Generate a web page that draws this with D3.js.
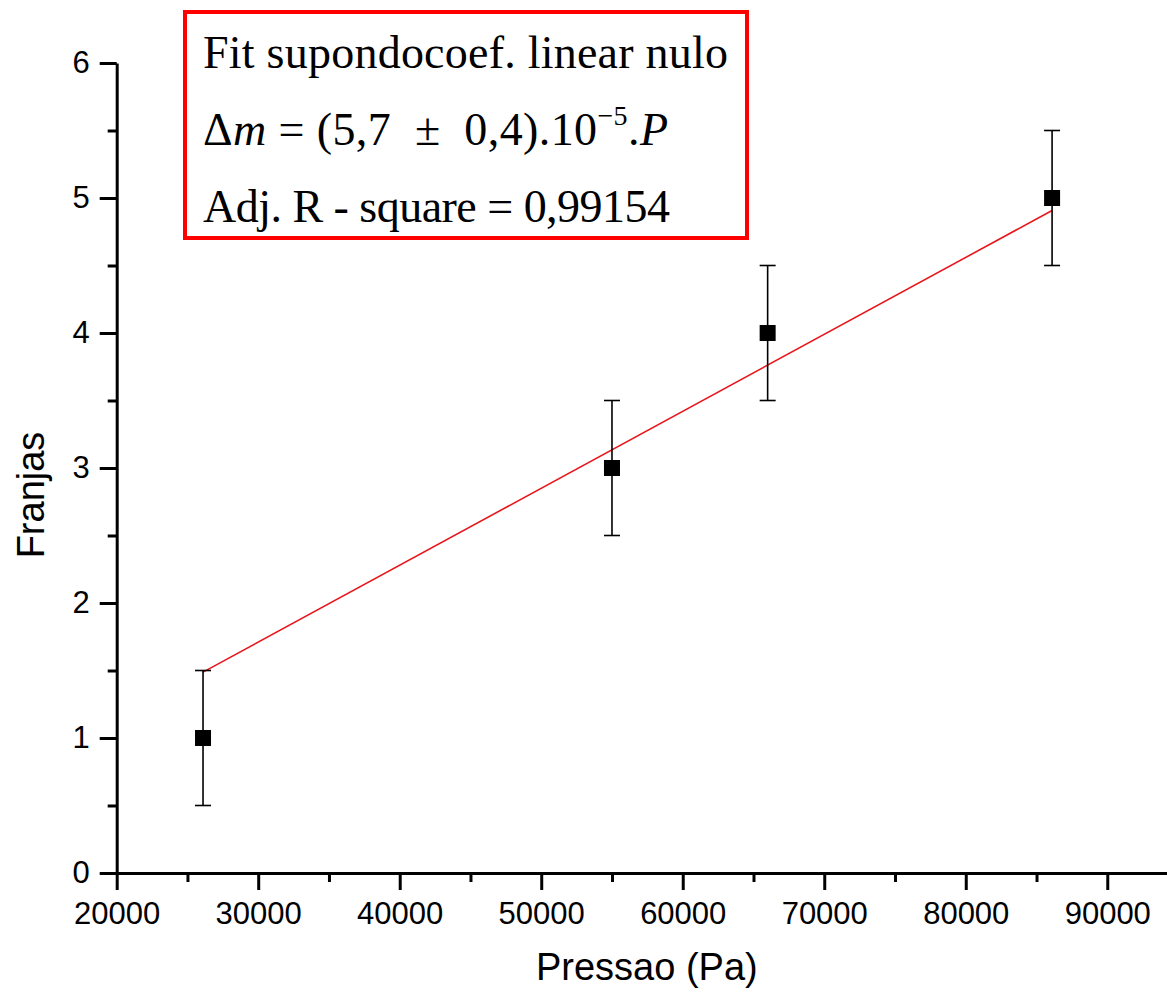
<!DOCTYPE html>
<html>
<head>
<meta charset="utf-8">
<script src="https://cdn.jsdelivr.net/npm/d3@7"></script>
<style>
  body { margin: 0; background: #fff; }
  svg { display: block; }
  .tick text { font-family: Arial, "Liberation Sans", sans-serif; }
</style>
</head>
<body>
<div id="chart"></div>
<script>
// measured points
const pressure = [26100, 55000, 66000, 86100];
const fringes = [1, 3, 4, 5];
const fringeErr = [0.5, 0.5, 0.5, 0.5];
// fit with zero intercept: dm = slope * P
const slope = 5.7e-5;

const xTicks = [20000, 30000, 40000, 50000, 60000, 70000, 80000, 90000];
const xMinor = [25000, 35000, 45000, 55000, 65000, 75000, 85000];
const yTicks = [0, 1, 2, 3, 4, 5, 6];
const yMinor = [0.5, 1.5, 2.5, 3.5, 4.5, 5.5];

const width = 1167;
const height = 994;

const svg = d3.select("#chart")
    .append("svg")
    .attr("width", width)
    .attr("height", height);

const x = d3.scaleLinear()
    .domain([20000, 95000])
    .range([116.7, 116.7 + 75000 * 0.014151]);

const y = d3.scaleLinear()
    .domain([0, 6])
    .range([873, 63]);

const data = pressure.map((p, i) => ({ p: p, f: fringes[i], e: fringeErr[i] }));

// minor ticks first, then the main axes over them
svg.append("g")
    .attr("transform", `translate(0, ${y(0)})`)
    .call(d3.axisBottom(x).tickValues(xMinor).tickSize(9).tickFormat(""))
    .call(g => g.select(".domain").remove())
    .selectAll("line").attr("stroke-width", 3);

svg.append("g")
    .attr("transform", `translate(${x(20000)}, 0)`)
    .call(d3.axisLeft(y).tickValues(yMinor).tickSize(9).tickFormat(""))
    .call(g => g.select(".domain").remove())
    .selectAll("line").attr("stroke-width", 3);

const xAxis = svg.append("g")
    .attr("transform", `translate(0, ${y(0)})`)
    .call(d3.axisBottom(x).tickValues(xTicks).tickSize(17).tickSizeOuter(0).tickPadding(12).tickFormat(d3.format("d")));
xAxis.select(".domain").attr("stroke-width", 3);
xAxis.selectAll(".tick line").attr("stroke-width", 3);
xAxis.selectAll(".tick text").attr("font-size", 31).attr("fill", "#000");

const yAxis = svg.append("g")
    .attr("transform", `translate(${x(20000)}, 0)`)
    .call(d3.axisLeft(y).tickValues(yTicks).tickSize(17).tickSizeOuter(0).tickPadding(10).tickFormat(d3.format("d")));
yAxis.select(".domain").attr("stroke-width", 3);
yAxis.selectAll(".tick line").attr("stroke-width", 3);
yAxis.selectAll(".tick text").attr("font-size", 31).attr("fill", "#000");

// axis titles
svg.append("text")
    .attr("x", (x(20000) + width) / 2 + 5)
    .attr("y", 980)
    .attr("text-anchor", "middle")
    .attr("font-family", "Arial, 'Liberation Sans', sans-serif")
    .attr("font-size", 38)
    .text("Pressao (Pa)");

svg.append("text")
    .attr("transform", `translate(44, ${(y(0) + y(6)) / 2 + 27}) rotate(-90)`)
    .attr("text-anchor", "middle")
    .attr("font-family", "Arial, 'Liberation Sans', sans-serif")
    .attr("font-size", 38)
    .text("Franjas");

// fitted line
const pStart = d3.min(pressure), pEnd = d3.max(pressure);
svg.append("line")
    .attr("x1", x(pStart))
    .attr("y1", y(slope * pStart))
    .attr("x2", x(pEnd))
    .attr("y2", y(slope * pEnd))
    .attr("stroke", "#e8161b")
    .attr("stroke-width", 1.6);

// error bars
const bars = svg.selectAll(".err")
    .data(data)
    .enter().append("g")
    .attr("class", "err")
    .attr("stroke", "#000")
    .attr("stroke-width", 1.6);

bars.append("line")
    .attr("x1", d => x(d.p)).attr("x2", d => x(d.p))
    .attr("y1", d => y(d.f - d.e)).attr("y2", d => y(d.f + d.e));

bars.append("line")
    .attr("x1", d => x(d.p) - 8).attr("x2", d => x(d.p) + 8)
    .attr("y1", d => y(d.f + d.e)).attr("y2", d => y(d.f + d.e));

bars.append("line")
    .attr("x1", d => x(d.p) - 8).attr("x2", d => x(d.p) + 8)
    .attr("y1", d => y(d.f - d.e)).attr("y2", d => y(d.f - d.e));

// square markers
svg.selectAll(".pt")
    .data(data)
    .enter().append("rect")
    .attr("class", "pt")
    .attr("x", d => x(d.p) - 8)
    .attr("y", d => y(d.f) - 8)
    .attr("width", 16)
    .attr("height", 16)
    .attr("fill", "#000");

// fit annotation box
const box = svg.append("g");
box.append("rect")
    .attr("x", 185)
    .attr("y", 12)
    .attr("width", 562)
    .attr("height", 226)
    .attr("fill", "#fff")
    .attr("stroke", "#ff0000")
    .attr("stroke-width", 4);

const serif = "'Times New Roman', 'Liberation Serif', serif";

box.append("text")
    .attr("x", 203).attr("y", 68)
    .attr("font-family", serif).attr("font-size", 46)
    .attr("textLength", 525).attr("lengthAdjust", "spacing")
    .text("Fit supondocoef. linear nulo");

const eq = box.append("text")
    .attr("x", 203).attr("y", 145)
    .attr("font-family", serif).attr("font-size", 46)
    .style("white-space", "pre");
eq.append("tspan").text("\u0394");
eq.append("tspan").attr("font-style", "italic").text("m");
eq.append("tspan").text(" = (5,7  \u00b1  0,4).10");
eq.append("tspan").attr("font-size", 28).attr("dy", -20).text("\u22125");
eq.append("tspan").attr("dy", 20).text(".");
eq.append("tspan").attr("font-style", "italic").text("P");
eq.attr("textLength", 465).attr("lengthAdjust", "spacing");

box.append("text")
    .attr("x", 203).attr("y", 222)
    .attr("font-family", serif).attr("font-size", 46)
    .style("white-space", "pre")
    .attr("textLength", 467).attr("lengthAdjust", "spacing")
    .text("Adj. R - square = 0,99154");
</script>
</body>
</html>
